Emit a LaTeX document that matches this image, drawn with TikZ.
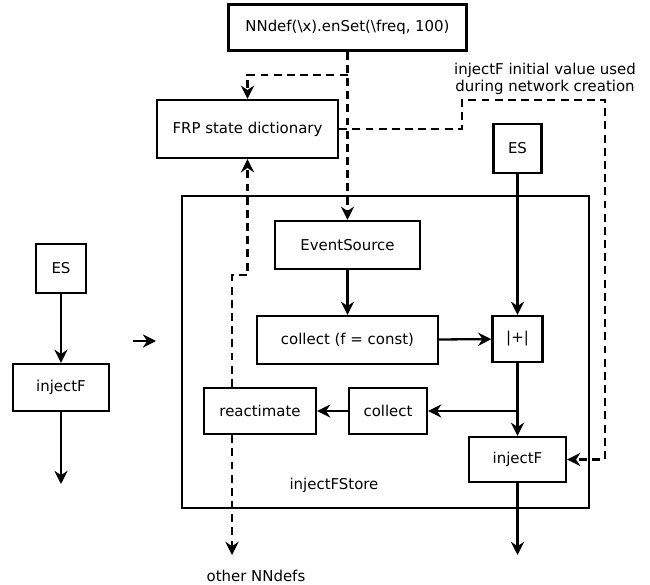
\documentclass[tikz,border=0pt]{standalone}
\usepackage{fontspec}
\setmainfont{DejaVu Sans}
\usepackage{tikz}
\usetikzlibrary{arrows.meta,positioning,calc}

\tikzset{
    blk/.style={draw, line width=1.35pt, inner sep=0pt, align=center},
    sline/.style={line width=1.3pt, -{Stealth[length=7.5pt,width=7.5pt,inset=2.5pt]}},
    dline/.style={line width=1.3pt, dash pattern=on 4.5pt off 3pt},
    darr/.style={dline, -{Stealth[length=7.5pt,width=7.5pt,inset=2.5pt]}}
}

\begin{document}
\begin{tikzpicture}[font=\fontsize{8.5}{10}\selectfont]
            \useasboundingbox (0,0) rectangle (13,-11.7);

            % Draw the outer store box
            \node[blk, minimum width=8.14cm, minimum height=6.24cm] (store) at (7.71,-7.04) {};
            \node (storelbl) at (6.68,-9.7) {injectFStore};

            % Draw the boxes on top
            \node[blk, minimum width=4.76cm, minimum height=0.92cm] (nndef) at (6.95,-0.55) {NNdef(\textbackslash x).enSet(\textbackslash freq, 100)};
            \node[blk, minimum width=3.62cm, minimum height=1.16cm] (frp) at (4.95,-2.58) {FRP state dictionary};
            \node[blk, minimum width=0.96cm, minimum height=0.98cm] (esr) at (10.35,-2.97) {ES};
            \node[align=center] (note) at (10.9,-1.58) {injectF initial value used\\during network creation};

            % Draw the boxes inside
            \node[blk, minimum width=2.9cm, minimum height=0.96cm] (evsrc) at (6.95,-4.9) {EventSource};
            \node[blk, minimum width=3.62cm, minimum height=0.96cm] (collf) at (6.95,-6.8) {collect (f = const)};
            \node[blk, minimum width=1.0cm, minimum height=0.92cm] (plus) at (10.35,-6.78) {|+|};
            \node[blk, minimum width=2.24cm, minimum height=0.92cm] (react) at (5.2,-8.22) {reactimate};
            \node[blk, minimum width=1.56cm, minimum height=0.92cm] (coll) at (7.76,-8.22) {collect};
            \node[blk, minimum width=1.94cm, minimum height=0.9cm] (injr) at (10.35,-9.19) {injectF};

            % Draw the small network on the left
            \node[blk, minimum width=1.0cm, minimum height=0.98cm] (esl) at (1.22,-5.37) {ES};
            \node[blk, minimum width=1.92cm, minimum height=0.94cm] (injl) at (1.22,-7.75) {injectF};
            \coordinate (outl) at (1.22,-9.68);
            \coordinate (ar1) at (2.66,-6.82);
            \coordinate (ar2) at (3.12,-6.82);

            \node (other) at (5.12,-11.52) {other NNdefs};
            \coordinate (outo) at (4.64,-11.1);
            \coordinate (outr) at (10.35,-11.1);
            \coordinate (br) at (6.95,-1.5);
            \coordinate (split) at (10.35,-8.22);

            % Solid connections
            \draw[sline] (esl) -- (injl);
            \draw[sline] (injl) -- (outl);
            \draw[sline] (ar1) -- (ar2);
            \draw[sline] (esr) -- (plus);
            \draw[sline] (evsrc) -- (collf);
            \draw[sline] (collf) -- (plus);
            \draw[sline] (plus) -- (injr);
            \draw[sline] (split) -- (coll);
            \draw[sline] (coll) -- (react);
            \draw[sline] (injr) -- (outr);

            % Dashed connections
            \draw[darr] (nndef) -- (evsrc);
            \draw[darr] (br) -| (frp);
            \draw[darr] (frp.east) -| (9.24,-2.0) -| (12.1,-5) |- (injr.east);
            \draw[darr] (react.north -| outo) -- (4.64,-5.5) -| (frp.south);
            \draw[darr] (react.south -| outo) -- (outo);
        \end{tikzpicture}
\end{document}
